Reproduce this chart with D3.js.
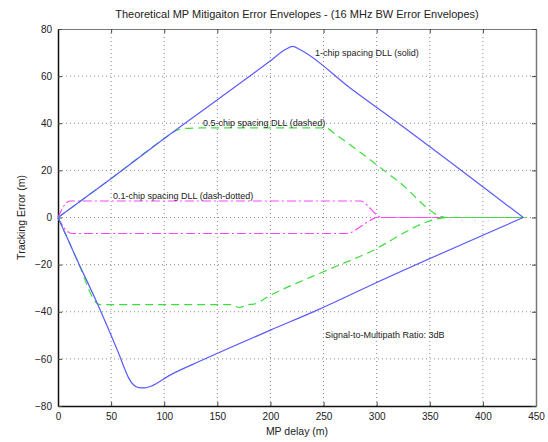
<!DOCTYPE html>
<html>
<head>
<meta charset="utf-8">
<script src="https://cdn.jsdelivr.net/npm/d3@7"></script>
<style>
body { margin: 0; background: #fff; }
text { font-family: "Liberation Sans", Arial, sans-serif; fill: #222; }
</style>
</head>
<body>
<script>
var w = 548;
var h = 442;

// ---- data (MP delay m, tracking error m) ----
var xTicks = [0, 50, 100, 150, 200, 250, 300, 350, 400, 450];
var yTicks = [-80, -60, -40, -20, 0, 20, 40, 60, 80];

var chip1Upper = [[0, 0], [47, 15.5], [100, 33.5], [200, 66.5], [214, 71.3], [221, 72.6], [228, 71.2], [275, 55], [322, 39.5], [438, 0]];
var chip1Lower = [[0, 0], [18, -18], [37, -36.5], [50, -50], [57, -57.5], [63, -64.5], [67, -68.5], [71, -71], [76, -72.2], [82, -72.3], [88, -71.5], [105, -67], [136, -60.5], [200, -47.8], [244, -39.3], [297, -28.2], [438, 0]];

var chip05Upper = [[0, 0], [47, 15.5], [100, 33.5], [110, 36.6], [120, 37.8], [135, 38], [252, 38], [262, 35], [320, 15.5], [366, 0], [440, 0]];
var chip05Lower = [[0, 0], [18, -18], [37, -36.5], [40, -37], [162, -37], [171, -38.2], [178, -37], [184, -36.8], [200, -33], [250, -23], [287, -16], [368, 0], [440, 0]];

var chip01Upper = [[0, 0], [5, 4.5], [11, 7], [285, 7], [292, 4.8], [297, 2.4], [301, 0.8], [305, 0], [440, 0]];
var chip01Lower = [[0, 0], [6, -4.5], [13, -6.8], [272, -6.8], [285, -3.8], [294, -1.2], [300, 0], [440, 0]];

var titleText = "Theoretical MP Mitigaiton Error Envelopes - (16 MHz BW Error Envelopes)";

drawChart();
function drawChart() {
    var svg = d3.select("body").append("svg")
        .attr("width", w)
        .attr("height", h);

    var pLeft = 58, pRight = 536, pTop = 29, pBottom = 406;

    var x = d3.scaleLinear().domain([0, 450]).range([pLeft, pRight]);
    var y = d3.scaleLinear().domain([-80, 80]).range([pBottom, pTop]);

    //---grid-----
    svg.append("g").selectAll("line").data(xTicks.slice(1, -1)).enter().append("line")
        .attr("x1", function (d) { return x(d); })
        .attr("x2", function (d) { return x(d); })
        .attr("y1", pTop).attr("y2", pBottom)
        .attr("stroke", "#8a8a8a").attr("stroke-width", 1)
        .attr("stroke-dasharray", "1,3");

    svg.append("g").selectAll("line").data(yTicks.slice(1, -1)).enter().append("line")
        .attr("y1", function (d) { return y(d); })
        .attr("y2", function (d) { return y(d); })
        .attr("x1", pLeft).attr("x2", pRight)
        .attr("stroke", "#8a8a8a").attr("stroke-width", 1)
        .attr("stroke-dasharray", "1,3");

    //---axes-----
    var xAxis = svg.append("g")
        .attr("transform", "translate(0," + pBottom + ")")
        .call(d3.axisBottom(x).tickValues(xTicks).tickSizeInner(-4).tickSizeOuter(0).tickPadding(7));
    var xTop = svg.append("g")
        .attr("transform", "translate(0," + pTop + ")")
        .call(d3.axisTop(x).tickValues(xTicks).tickSizeInner(-4).tickSizeOuter(0).tickFormat(""));
    var yAxis = svg.append("g")
        .attr("transform", "translate(" + pLeft + ",0)")
        .call(d3.axisLeft(y).tickValues(yTicks).tickSizeInner(-4).tickSizeOuter(0).tickPadding(6));
    var yRight = svg.append("g")
        .attr("transform", "translate(" + pRight + ",0)")
        .call(d3.axisRight(y).tickValues(yTicks).tickSizeInner(-4).tickSizeOuter(0).tickFormat(""));

    [xAxis, xTop, yAxis, yRight].forEach(function (g) {
        g.selectAll(".tick line").attr("stroke", "#444");
        g.selectAll("text").attr("font-size", 10).attr("fill", "#333")
            .attr("font-family", "Liberation Sans, Arial, sans-serif");
    });
    xTop.select(".domain").attr("stroke", "#777");
    yRight.select(".domain").attr("stroke", "#777").attr("stroke-width", 1.5);
    xAxis.select(".domain").attr("stroke", "#111").attr("stroke-width", 1.5);
    yAxis.select(".domain").attr("stroke", "#111").attr("stroke-width", 1.5);

    //---curves-----
    var line = d3.line()
        .x(function (d) { return x(d[0]); })
        .y(function (d) { return y(d[1]); })
        .curve(d3.curveMonotoneX);

    function drawCurve(data, color, dash) {
        svg.append("path")
            .datum(data)
            .attr("d", line)
            .attr("fill", "none")
            .attr("stroke", color)
            .attr("stroke-width", 1.2)
            .attr("stroke-dasharray", dash);
    }

    drawCurve(chip01Upper, "#ff44ff", "9,3,2,3");
    drawCurve(chip01Lower, "#ff44ff", "9,3,2,3");
    drawCurve(chip05Upper, "#3be03b", "8,5");
    drawCurve(chip05Lower, "#3be03b", "8,5");
    drawCurve(chip1Upper, "#5a5aff", null);
    drawCurve(chip1Lower, "#5a5aff", null);

    //----text------
    svg.append("text")
        .text(titleText)
        .attr("x", (pLeft + pRight) / 2)
        .attr("y", 18)
        .attr("text-anchor", "middle")
        .attr("font-size", 11)
        .attr("fill", "#333");

    svg.append("text")
        .text("MP delay (m)")
        .attr("x", (pLeft + pRight) / 2)
        .attr("y", 435)
        .attr("text-anchor", "middle")
        .attr("font-size", 10.5);

    svg.append("text")
        .text("Tracking Error (m)")
        .attr("transform", "translate(25," + ((pTop + pBottom) / 2) + ") rotate(-90)")
        .attr("text-anchor", "middle")
        .attr("font-size", 10.5);

    svg.append("text")
        .text("1-chip spacing DLL (solid)")
        .attr("x", 315).attr("y", 56)
        .attr("font-size", 9);

    svg.append("text")
        .text("0.5-chip spacing DLL (dashed)")
        .attr("x", 203).attr("y", 126)
        .attr("font-size", 9);

    svg.append("text")
        .text("0.1-chip spacing DLL (dash-dotted)")
        .attr("x", 113).attr("y", 199)
        .attr("font-size", 9);

    svg.append("text")
        .text("Signal-to-Multipath Ratio: 3dB")
        .attr("x", 325).attr("y", 338)
        .attr("font-size", 9);
}
</script>
</body>
</html>
